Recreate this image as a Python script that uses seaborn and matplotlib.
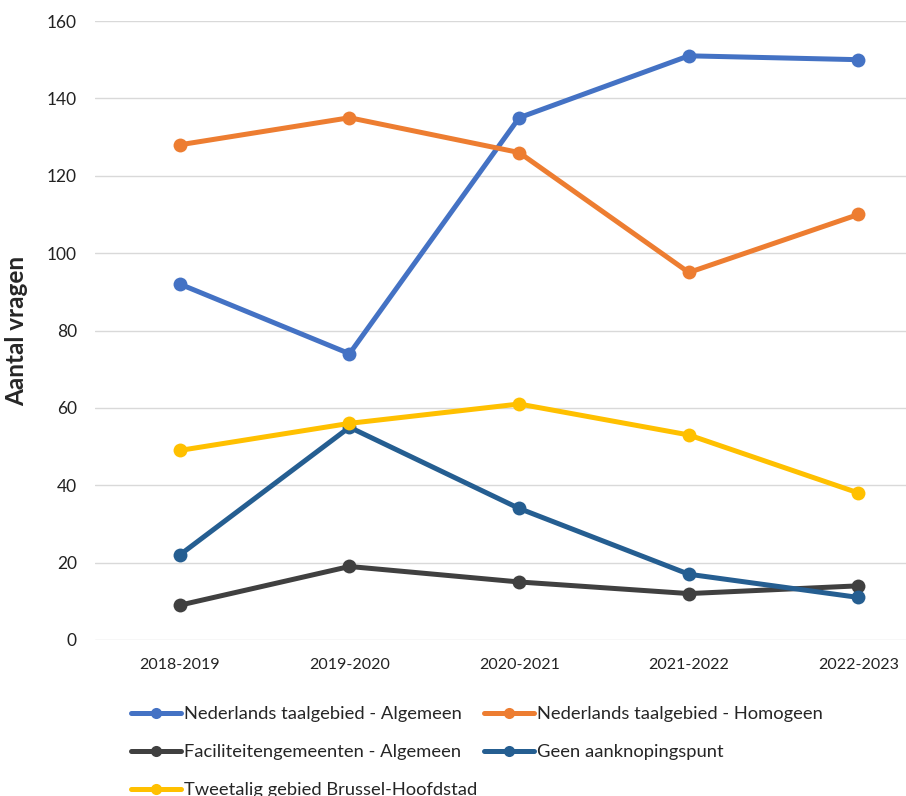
import pandas as pd
import matplotlib.pyplot as plt
import seaborn as sns

# Data
seasons = ["2018-2019", "2019-2020", "2020-2021", "2021-2022", "2022-2023"]
nl_algemeen = [92, 74, 135, 151, 150]
nl_homogeen = [128, 135, 126, 95, 110]
faciliteiten = [9, 19, 15, 12, 14]
geen_aanknoping = [22, 55, 34, 17, 11]
brussel = [49, 56, 61, 53, 38]

series = {
    "Nederlands taalgebied - Algemeen": nl_algemeen,
    "Nederlands taalgebied - Homogeen": nl_homogeen,
    "Faciliteitengemeenten - Algemeen": faciliteiten,
    "Geen aanknopingspunt": geen_aanknoping,
    "Tweetalig gebied Brussel-Hoofdstad": brussel,
}
colors = ["#4472C4", "#ED7D31", "#404040", "#255E91", "#FFC000"]

rows = []
for name, vals in series.items():
    for i, v in enumerate(vals):
        rows.append({"pos": i, "Schooljaar": seasons[i], "reeks": name, "waarde": v})
df = pd.DataFrame(rows)

sns.set_theme(style="white")
plt.rcParams["font.family"] = ["Lato", "DejaVu Sans"]

fig = plt.figure(figsize=(9.06, 7.96), dpi=100)
ax = fig.add_axes([95 / 906, 1 - 640 / 796, 1 - 95 / 906, (640 - 21) / 796])

sns.lineplot(data=df, x="pos", y="waarde", hue="reeks", palette=colors,
             marker="o", markersize=10, markeredgewidth=0, linewidth=3.6,
             sort=False, ax=ax, zorder=3)

ax.set_xlim(-0.5, 4.28)
ax.set_ylim(0, 160)
ax.set_xticks(range(len(seasons)))
ax.set_xticklabels(seasons, fontsize=11.5, color="#222222")
ax.set_yticks(range(0, 161, 20))
ax.tick_params(axis="y", labelsize=12.5, colors="#222222", pad=13, length=0)
ax.tick_params(axis="x", pad=13, length=0)
ax.yaxis.grid(True, color="#D9D9D9", linewidth=1)
ax.set_axisbelow(True)
for s in ax.spines.values():
    s.set_visible(False)

ax.set_xlabel("")
ax.set_ylabel("Aantal vragen", fontsize=17.5, fontweight="bold")
ax.yaxis.set_label_coords(-67 / 811, 0.5)

# legend filled row by row like the original
handles, labels = ax.get_legend_handles_labels()
order = [0, 2, 4, 1, 3]
ax.legend([handles[i] for i in order], [labels[i] for i in order],
          loc="upper left", bbox_to_anchor=(124 / 906, 1 - 699 / 796),
          bbox_transform=fig.transFigure, ncol=2, frameon=False, fontsize=13.2,
          handlelength=2.7, handletextpad=0.2, columnspacing=0.35, labelspacing=1.2,
          borderaxespad=0, markerscale=0.8)

fig.savefig("out.png", dpi=100)
